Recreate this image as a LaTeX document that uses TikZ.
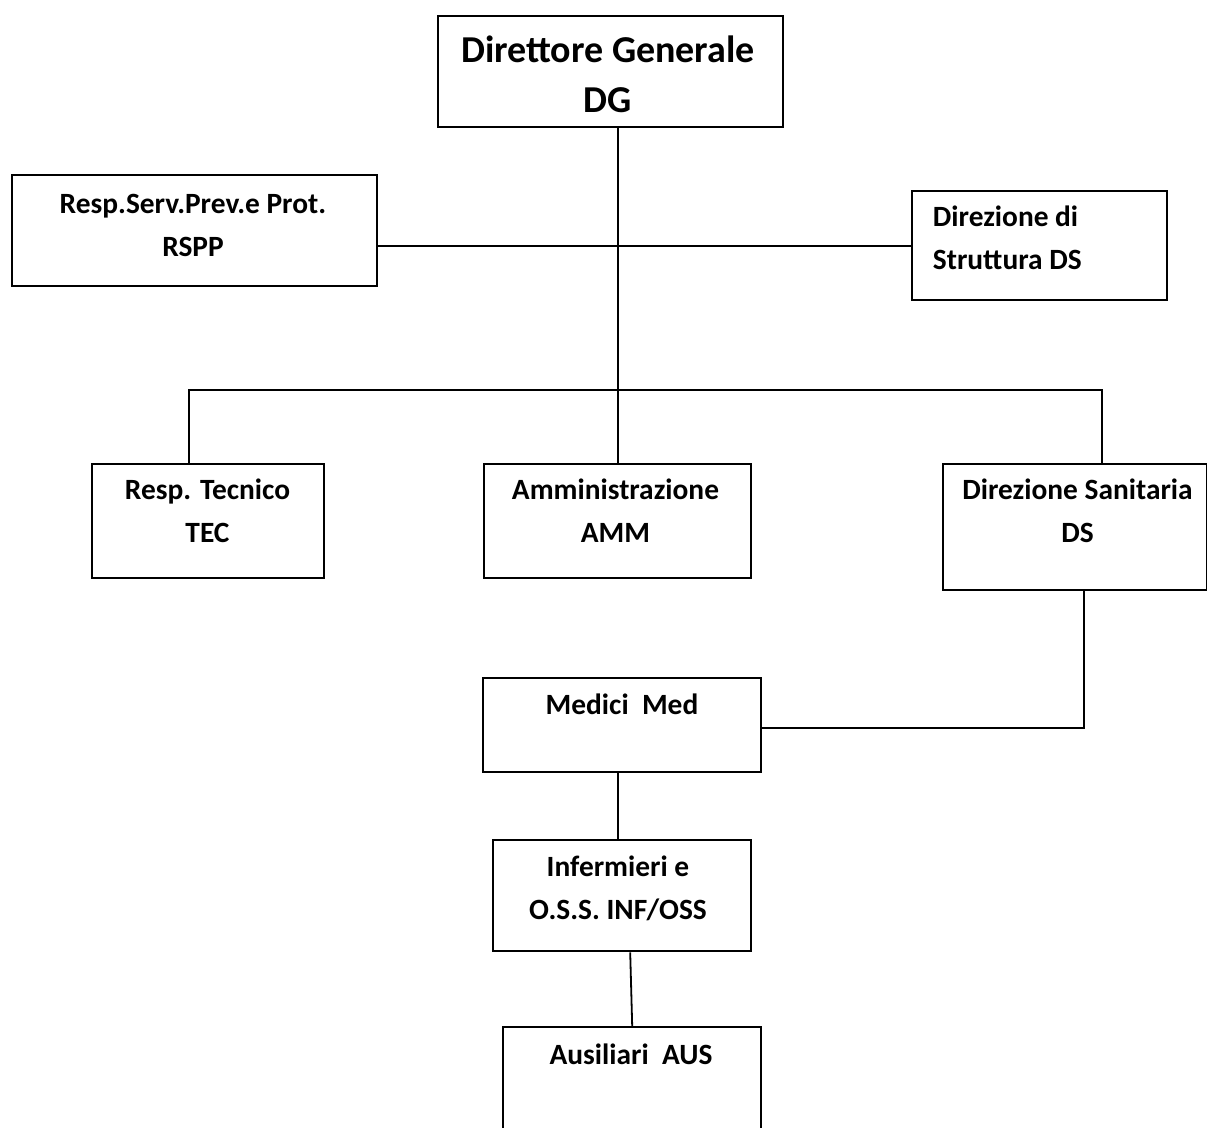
\documentclass[tikz,border=0pt]{standalone}
\usepackage{fontspec}
\setmainfont{Carlito}

\tikzset{
  orgbox/.style 2 args={draw, line width=1.2pt, minimum width=#1, minimum height=#2,
    inner sep=0pt, anchor=north west},
  txt/.style={font=\bfseries\fontsize{14.7}{21.5}\selectfont, align=center,
    inner sep=0pt, anchor=base},
  bigtxt/.style={txt, font=\bfseries\fontsize{19}{25}\selectfont},
}

\begin{document}
\begin{tikzpicture}[x=0.5pt, y=-0.5pt, line width=0.9pt]

\useasboundingbox (0,0) rectangle (1207,1128);
\clip (0,0) rectangle (1207,1128);

% boxes
\node[orgbox={172.5pt}{55.5pt}] (dg) at (437,15) {};
\node[orgbox={182.5pt}{55.5pt}] (rspp) at (11,174) {};
\node[orgbox={127.5pt}{54.5pt}] (dstr) at (911,190) {};
\node[orgbox={116pt}{57pt}] (tec) at (91,463) {};
\node[orgbox={133.5pt}{57pt}] (amm) at (483,463) {};
\node[orgbox={132pt}{63pt}] (dsan) at (942,463) {};
\node[orgbox={139pt}{47pt}] (med) at (482,677) {};
\node[orgbox={129pt}{55.5pt}] (inf) at (492,839) {};
\node[orgbox={129pt}{65pt}] (aus) at (502,1026) {};

% texts (base = last line)
\node[bigtxt] (dg-t) at (608,113) {Direttore Generale\\DG};
\node[txt] (rspp-t) at (193,257) {Resp.Serv.Prev.e Prot.\\RSPP};
\node[txt, align=left, anchor=base west] (dstr-t) at (932,270) {Direzione di\\Struttura DS};
\node[txt] (tec-t) at (207.5,543) {Resp. Tecnico\\TEC};
\node[txt] (amm-t) at (615.5,543) {Amministrazione\\AMM};
\node[txt] (dsan-t) at (1077.5,543) {Direzione Sanitaria\\DS};
\node[txt] (med-t) at (622,715) {Medici\ \ Med};
\node[txt] (inf-t) at (618,920) {Infermieri e\\O.S.S. INF/OSS};
\node[txt] (aus-t) at (631,1065) {Ausiliari\ \ AUS};

% connectors
\draw (amm.north) -- (amm.north |- dg.south);
\draw (dstr.west) -- (dstr.west -| rspp.east);
\draw ([xshift=-9.5pt]tec.north) -- ++(0,-73) -| ([xshift=13.5pt]dsan.north);
\draw ([xshift=4.5pt]dsan.south) |- ([yshift=-1.5pt]med.east);
\draw ([xshift=-2pt]med.south) -- ([xshift=-2pt]inf.north);
\draw ([xshift=4pt]inf.south) -- (aus.north);

\end{tikzpicture}
\end{document}
